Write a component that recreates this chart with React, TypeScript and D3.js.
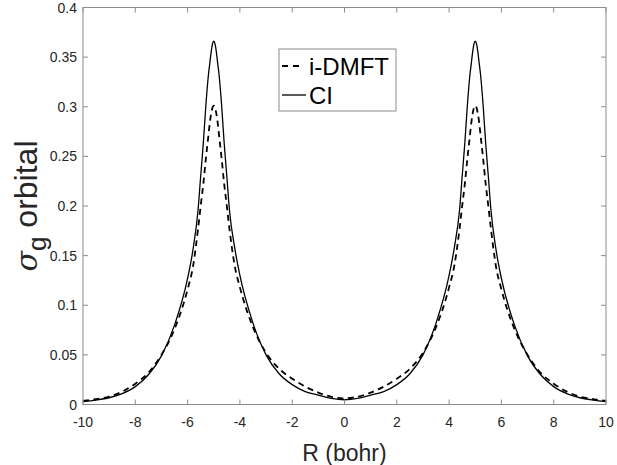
import React from "react";
import * as d3 from "d3";

// R values (bohr) where the curves were read
const rValues = [
  -10, -9.5, -9, -8.5, -8, -7.5, -7, -6.5, -6,
  -5.8, -5.6, -5.5, -5.4, -5.3, -5.2, -5.15, -5.1, -5.05,
  -5,
  -4.95, -4.9, -4.85, -4.8, -4.7, -4.6, -4.5, -4.4, -4.2, -4,
  -3.5, -3, -2.5, -2, -1.5, -1, -0.5,
  0,
  0.5, 1, 1.5, 2, 2.5, 3, 3.5,
  4, 4.2, 4.4, 4.5, 4.6, 4.7, 4.8, 4.85, 4.9, 4.95,
  5,
  5.05, 5.1, 5.15, 5.2, 5.3, 5.4, 5.5, 5.6, 5.8,
  6, 6.5, 7, 7.5, 8, 8.5, 9, 9.5, 10,
];

// CI orbital (solid)
const ciValues = [
  0.003, 0.0045, 0.0068, 0.011, 0.018, 0.03, 0.049, 0.08, 0.127,
  0.155, 0.196, 0.23, 0.263, 0.302, 0.333, 0.344, 0.355, 0.363,
  0.366,
  0.363, 0.355, 0.344, 0.333, 0.302, 0.263, 0.23, 0.196, 0.158, 0.13,
  0.082, 0.05, 0.031, 0.02, 0.013, 0.0095, 0.0062,
  0.0048,
  0.0062, 0.0095, 0.013, 0.02, 0.031, 0.05, 0.082,
  0.13, 0.158, 0.196, 0.23, 0.263, 0.302, 0.333, 0.344, 0.355, 0.363,
  0.366,
  0.363, 0.355, 0.344, 0.333, 0.302, 0.263, 0.23, 0.196, 0.155,
  0.127, 0.08, 0.049, 0.03, 0.018, 0.011, 0.0068, 0.0045, 0.003,
];

// i-DMFT orbital (dashed)
const dmftValues = [
  0.0035, 0.0055, 0.008, 0.013, 0.021, 0.032, 0.05, 0.076, 0.116,
  0.138, 0.177, 0.2, 0.222, 0.248, 0.272, 0.284, 0.293, 0.299,
  0.301,
  0.299, 0.293, 0.284, 0.272, 0.248, 0.222, 0.2, 0.177, 0.14, 0.118,
  0.078, 0.052, 0.036, 0.026, 0.018, 0.012, 0.0078,
  0.0062,
  0.0078, 0.012, 0.018, 0.026, 0.036, 0.052, 0.078,
  0.118, 0.14, 0.177, 0.2, 0.222, 0.248, 0.272, 0.284, 0.293, 0.299,
  0.301,
  0.299, 0.293, 0.284, 0.272, 0.248, 0.222, 0.2, 0.177, 0.138,
  0.116, 0.076, 0.05, 0.032, 0.021, 0.013, 0.008, 0.0055, 0.0035,
];

const xTicks = [-10, -8, -6, -4, -2, 0, 2, 4, 6, 8, 10];
const yTicks = [0, 0.05, 0.1, 0.15, 0.2, 0.25, 0.3, 0.35, 0.4];

const App: React.FC = () => {
  const width = 617;
  const height = 465;
  const margin = { top: 7.5, right: 11, bottom: 60.5, left: 83 };
  const font = "'Liberation Sans', Arial, Helvetica, sans-serif";
  const axisColor = "#8c8c8c";
  const textColor = "#262626";

  const x = d3.scaleLinear().domain([-10, 10]).range([margin.left, width - margin.right]);
  const y = d3.scaleLinear().domain([0, 0.4]).range([height - margin.bottom, margin.top]);

  const line = d3
    .line<number>()
    .x((_, i) => x(rValues[i]))
    .y(d => y(d))
    .curve(d3.curveMonotoneX);

  const x0 = x.range()[0];
  const x1 = x.range()[1];
  const y0 = y.range()[0];
  const y1 = y.range()[1];
  const tickLen = 5;

  return (
    <svg
      width={width}
      height={height}
      style={{ position: "absolute", left: 0, top: 0, background: "#fff" }}
    >
      <defs>
        <clipPath id="plot">
          <rect x={x0} y={y1} width={x1 - x0} height={y0 - y1} />
        </clipPath>
      </defs>

      {/* curves */}
      <g clipPath="url(#plot)" fill="none" stroke="#000">
        <path d={line(dmftValues) ?? ""} strokeWidth={1.8} strokeDasharray="6,4.5" />
        <path d={line(ciValues) ?? ""} strokeWidth={1.3} />
      </g>

      {/* axes box + ticks */}
      <g stroke={axisColor} strokeWidth={1} fill="none">
        <rect x={x0} y={y1} width={x1 - x0} height={y0 - y1} />
        {xTicks.map(t => (
          <g key={t}>
            <line x1={x(t)} x2={x(t)} y1={y0} y2={y0 - tickLen} />
            <line x1={x(t)} x2={x(t)} y1={y1} y2={y1 + tickLen} />
          </g>
        ))}
        {yTicks.map(t => (
          <g key={t}>
            <line x1={x0} x2={x0 + tickLen} y1={y(t)} y2={y(t)} />
            <line x1={x1} x2={x1 - tickLen} y1={y(t)} y2={y(t)} />
          </g>
        ))}
      </g>

      {/* tick labels */}
      <g fontFamily={font} fontSize={14} fill={textColor}>
        {xTicks.map(t => (
          <text key={t} x={x(t)} y={y0 + 22} textAnchor="middle">
            {t}
          </text>
        ))}
        {yTicks.map(t => (
          <text key={t} x={x0 - 6} y={y(t) + 5} textAnchor="end">
            {t}
          </text>
        ))}
      </g>

      {/* axis labels */}
      <text
        x={(x0 + x1) / 2}
        y={461}
        textAnchor="middle"
        fontFamily={font}
        fontSize={23}
        fill={textColor}
      >
        R (bohr)
      </text>
      <text
        transform={`translate(37,${(y0 + y1) / 2}) rotate(-90)`}
        textAnchor="middle"
        fontFamily={font}
        fontSize={32}
        fill={textColor}
      >
        <tspan fontFamily="'DejaVu Serif', serif" fontStyle="italic" fontSize={30}>σ</tspan>
        <tspan fontSize={26} dy={9}>g</tspan>
        <tspan dy={-9}> orbital</tspan>
      </text>

      {/* legend */}
      <g>
        <rect x={279} y={49} width={117} height={62} fill="#fff" stroke={axisColor} strokeWidth={1} />
        <line x1={282} x2={304} y1={66} y2={66} stroke="#000" strokeWidth={1.8} strokeDasharray="6,5" />
        <line x1={282} x2={306} y1={95} y2={95} stroke="#000" strokeWidth={1.3} />
        <text x={309} y={75} fontFamily={font} fontSize={24} fill="#000">i-DMFT</text>
        <text x={309} y={104} fontFamily={font} fontSize={24} fill="#000">CI</text>
      </g>
    </svg>
  );
};

export default App;
